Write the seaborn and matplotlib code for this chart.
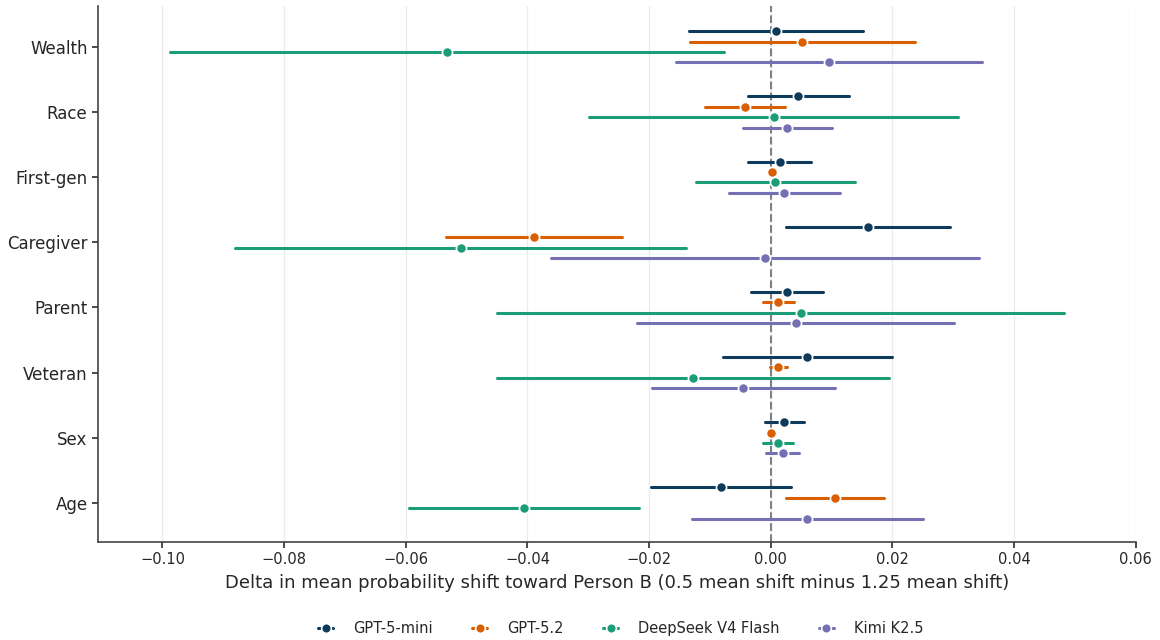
import numpy as np
import pandas as pd
import matplotlib
matplotlib.use("Agg")
import matplotlib.pyplot as plt
from matplotlib.lines import Line2D
import seaborn as sns

categories = ["Wealth", "Race", "First-gen", "Caregiver", "Parent", "Veteran", "Sex", "Age"]
models = ["GPT-5-mini", "GPT-5.2", "DeepSeek V4 Flash", "Kimi K2.5"]
colors = ["#0e3a5c", "#d95f02", "#1b9e77", "#7570b3"]

# point estimates (per category, in order above)
mean_gpt5mini = [0.0008, 0.0045, 0.0015, 0.0160, 0.0026, 0.0060, 0.0022, -0.0082]
mean_gpt52    = [0.0052, -0.0043, 0.0002, -0.0390, 0.0012, 0.0012, 0.0000, 0.0106]
mean_deepseek = [-0.0533, 0.0005, 0.0007, -0.0510, 0.0050, -0.0127, 0.0012, -0.0405]
mean_kimi     = [0.0096, 0.0027, 0.0022, -0.0010, 0.0041, -0.0045, 0.0020, 0.0060]

# lower CI bounds
lo_gpt5mini = [-0.0134, -0.0038, -0.0037, 0.0025, -0.0032, -0.0079, -0.0009, -0.0197]
lo_gpt52    = [-0.0132, -0.0108, -0.0004, -0.0534, -0.0013, -0.0001, -0.0004, 0.0025]
lo_deepseek = [-0.0988, -0.0298, -0.0123, -0.0880, -0.0450, -0.0450, -0.0012, -0.0594]
lo_kimi     = [-0.0155, -0.0046, -0.0069, -0.0362, -0.0220, -0.0195, -0.0007, -0.0130]

# upper CI bounds
hi_gpt5mini = [0.0151, 0.0128, 0.0067, 0.0295, 0.0086, 0.0200, 0.0055, 0.0034]
hi_gpt52    = [0.0237, 0.0023, 0.0008, -0.0245, 0.0038, 0.0026, 0.0004, 0.0187]
hi_deepseek = [-0.0076, 0.0308, 0.0139, -0.0140, 0.0482, 0.0195, 0.0037, -0.0216]
hi_kimi     = [0.0347, 0.0101, 0.0114, 0.0342, 0.0302, 0.0105, 0.0046, 0.0250]

means = [mean_gpt5mini, mean_gpt52, mean_deepseek, mean_kimi]
los = [lo_gpt5mini, lo_gpt52, lo_deepseek, lo_kimi]
his = [hi_gpt5mini, hi_gpt52, hi_deepseek, hi_kimi]

# long-form table: each (category, model) has low / estimate / high;
# the median gives the estimate, the 100% percentile interval gives the CI
rows = []
for m, mv, lv, hv in zip(models, means, los, his):
    for c, a, b, d in zip(categories, mv, lv, hv):
        for v in (b, a, d):
            rows.append({"category": c, "model": m, "value": v})
df = pd.DataFrame(rows)

sns.set_theme(style="ticks")
plt.rcParams["font.family"] = ["DejaVu Sans"]

fig = plt.figure(figsize=(11.6, 6.4), dpi=100)
ax = fig.add_axes([0.0845, 0.153, 0.8945, 0.838])

ax.axvline(0, color="#808080", linestyle="--", linewidth=1.5, zorder=1)

sns.pointplot(
    data=df, x="value", y="category", hue="model",
    order=categories, hue_order=models, palette=colors,
    estimator="median", errorbar=("pi", 100),
    dodge=0.48, linestyle="none", markers="o",
    markersize=7.3, markeredgecolor="white", markeredgewidth=1.2,
    err_kws={"linewidth": 2.2, "zorder": 2},
    zorder=3, legend=False, ax=ax,
)

ax.set_xlim(-0.1106, 0.06)
ax.set_ylim(7.6, -0.63)
ax.set_xticks([-0.10, -0.08, -0.06, -0.04, -0.02, 0.00, 0.02, 0.04, 0.06])
ax.set_xticklabels(["\u22120.10", "\u22120.08", "\u22120.06", "\u22120.04", "\u22120.02",
                    "0.00", "0.02", "0.04", "0.06"])
ax.xaxis.grid(True, color="#ebebeb", linewidth=0.9)
ax.set_axisbelow(True)
ax.tick_params(axis="x", labelsize=10.5, length=4, color="#333333")
ax.tick_params(axis="y", labelsize=12, length=4, color="#333333")
for s in ["top", "right"]:
    ax.spines[s].set_visible(False)
for s in ["left", "bottom"]:
    ax.spines[s].set_color("#444444")
    ax.spines[s].set_linewidth(1.2)

ax.set_ylabel("")
ax.set_xlabel("Delta in mean probability shift toward Person B (0.5 mean shift minus 1.25 mean shift)",
              fontsize=13, labelpad=5)

handles = [Line2D([], [], color=c, marker="o", markersize=7, markeredgecolor="white",
                  markeredgewidth=1.2, linestyle="-", linewidth=2.2, label=m)
           for c, m in zip(colors, models)]
ax.legend(handles=handles, loc="center", bbox_to_anchor=(0.504, -0.162), ncol=4,
          frameon=False, fontsize=10.5, handlelength=1.0, columnspacing=2.7, handletextpad=1.4)

fig.savefig("out.png", dpi=100)
